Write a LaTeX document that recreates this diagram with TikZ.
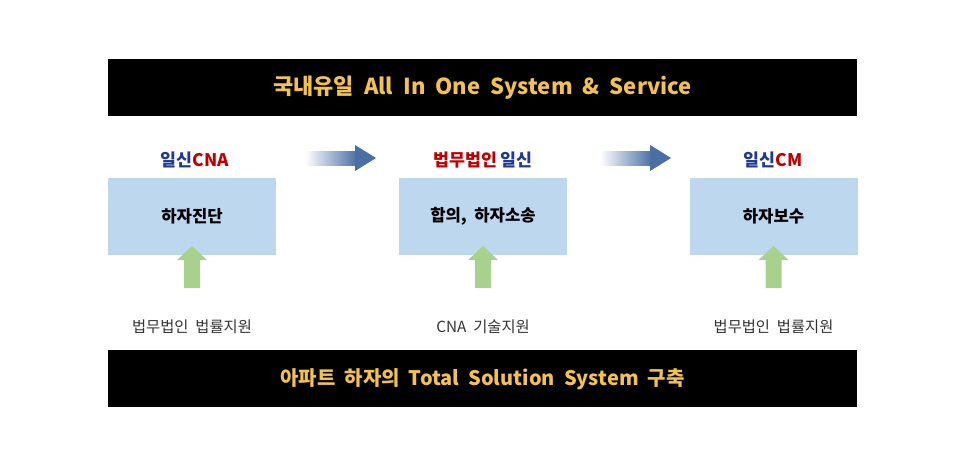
\documentclass[tikz,border=0pt]{standalone}
\usepackage{fontspec}
\setmainfont{Noto Sans CJK KR}
\usetikzlibrary{shadings}
\definecolor{gold}{HTML}{F2C14E}
\definecolor{boxblue}{HTML}{BDD7EE}
\definecolor{dblue}{HTML}{1F3A93}
\definecolor{dred}{HTML}{C00000}
\definecolor{agreen}{HTML}{A9D18E}
\definecolor{arrblue}{HTML}{4A6FA5}
\tikzset{
  bar/.style={fill=black,draw=none},
  bartext/.style={text=gold,font=\bfseries\fontsize{16.5}{20}\selectfont},
  stagebox/.style={fill=boxblue,draw=none,minimum width=126pt,minimum height=57.75pt,font=\bfseries\fontsize{12.5}{15}\selectfont},
  title/.style={font=\bfseries\fontsize{13}{15}\selectfont},
  support/.style={font=\fontsize{11.5}{14}\selectfont,text=black!80},
  uparrow/.style={fill=agreen,draw=none},
}
\begin{document}
\begin{tikzpicture}[x=0.75pt,y=-0.75pt]
\useasboundingbox (0,0) rectangle (966,464);
\fill[bar] (108,59) rectangle (857,116);
\node[bartext] (top) at (482.5,88) {국내유일\ \ All\ \ In\ \ One\ \ System\ \ \&\ \ Service};
\fill[bar] (108,350) rectangle (857,407);
\node[bartext,font=\bfseries\fontsize{15}{18}\selectfont] (bot) at (482.5,379) {아파트\ \ 하자의\ \ Total\ \ Solution\ \ System\ \ 구축};
\foreach \n/\cx/\t/\s in {a/192/하자진단/법무법인\ \ 법률지원, b/483/{합의,\ \ 하자소송}/CNA\ \ 기술지원, c/773.5/하자보수/법무법인\ \ 법률지원}{
  \node[stagebox] (box\n) at (\cx,216.5) {\t};
  \fill[uparrow] (\cx-8,288) -- (\cx+8,288) -- (\cx+8,260) -- (\cx+15,260) -- (\cx,246) -- (\cx-15,260) -- (\cx-8,260) -- cycle;
  \node[support] (sup\n) at (\cx,327) {\s};
}
\node[title] (ta) at (195,160) {\textcolor{dblue}{일신}\textcolor{dred}{CNA}};
\node[title] (tb) at (483,160) {\textcolor{dred}{법무법인}\ \textcolor{dblue}{일신}};
\node[title] (tc) at (773,160) {\textcolor{dblue}{일신}\textcolor{dred}{CM}};
\foreach \x in {305,600}{
  \shade[left color=white,right color=arrblue] (\x,151) rectangle (\x+52,165);
  \fill[arrblue] (\x+50,151) -- (\x+50,145) -- (\x+71,158) -- (\x+50,171) -- (\x+50,165) -- cycle;
}
\end{tikzpicture}
\end{document}
